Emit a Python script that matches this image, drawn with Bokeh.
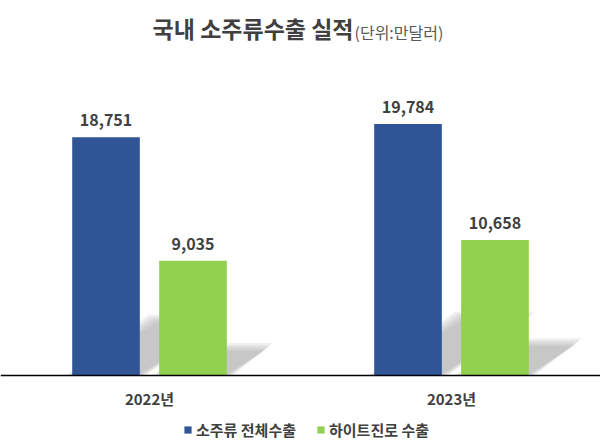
from bokeh.plotting import figure
from bokeh.models import (Range1d, FixedTicker, Legend, LegendItem, Label,
                          ColumnDataSource, LabelSet)
from bokeh.embed import file_html
from bokeh.resources import INLINE
from bokeh.core.properties import value

# ---- data ----
years = ["2022년", "2023년"]
total_export = [18751, 19784]
hite_export = [9035, 10658]
series_names = ["소주류 전체수출", "하이트진로 수출"]
title_main = "국내 소주류수출 실적"
title_unit = "(단위:만달러)"

# ---- style ----
BLUE = "#2F5597"
GREEN = "#92D050"
TEXT = "#404040"
FONT = "Noto Sans CJK KR"

W, H = 600, 446
BASE_PX = 375           # baseline position from top
PX_PER_X = 302.0
UNITS_PER_PX = 78.7
px_per_y = 1.0 / UNITS_PER_PX

idx = list(range(len(years)))
off = 0.144
bw = 0.224
x_blue = [i - off for i in idx]
x_green = [i + off for i in idx]
half_x = (W / 2) / PX_PER_X

p = figure(width=W, height=H, x_range=Range1d(0.5 - half_x, 0.5 + half_x),
           y_range=Range1d(-(H - BASE_PX) * UNITS_PER_PX, BASE_PX * UNITS_PER_PX),
           output_backend="svg", toolbar_location=None,
           y_axis_location=None, min_border_left=0, min_border_right=0,
           min_border_top=0, min_border_bottom=0)
p.outline_line_color = None
p.xgrid.grid_line_color = None
p.ygrid.grid_line_color = None
p.background_fill_color = "white"
p.border_fill_color = "white"


# ---- perspective shadows (derived from bar values) ----
def shadow(xc, v, e):
    h = 0.23 * v
    a = 1.5 * h * px_per_y / PX_PER_X
    ex = e / PX_PER_X
    ey = e / px_per_y
    x0, x1 = xc - bw / 2, xc + bw / 2
    return ([x0 - ex, x1 + ex, x1 + a + ex, x0 + a - ex],
            [0, 0, h + ey, h + ey])


for e in [6, 4, 2, 0, -2]:
    xs, ys = [], []
    for xc, v in list(zip(x_blue, total_export)) + list(zip(x_green, hite_export)):
        sx, sy = shadow(xc, v, e)
        xs.append(sx)
        ys.append(sy)
    p.patches(xs, ys, fill_color="#a0a0a0", fill_alpha=0.16, line_color=None)

# ---- bars ----
r1 = p.vbar(x=x_blue, top=total_export, width=bw, fill_color=BLUE, line_color=None)
r2 = p.vbar(x=x_green, top=hite_export, width=bw, fill_color=GREEN, line_color=None)

# ---- value labels ----
lab_src = ColumnDataSource(dict(
    x=x_blue + x_green,
    y=total_export + hite_export,
    t=[f"{v:,}" for v in total_export + hite_export],
))
p.add_layout(LabelSet(x="x", y="y", text="t", source=lab_src, y_offset=11,
                      text_align="center", text_baseline="bottom",
                      text_font=value(FONT), text_font_size=value("16px"),
                      text_font_style="bold", text_color=TEXT))

# ---- axis (pinned at y=0) ----
ax = p.xaxis[0]
ax.fixed_location = 0
ax.ticker = FixedTicker(ticks=idx)
ax.major_label_overrides = {i: y for i, y in zip(idx, years)}
ax.major_label_text_font = FONT
ax.major_label_text_font_size = "15px"
ax.major_label_text_font_style = "bold"
ax.major_label_text_color = TEXT
ax.major_tick_line_color = None
ax.minor_tick_line_color = None
ax.major_tick_out = 0
ax.major_tick_in = 0
ax.axis_line_color = "black"
ax.axis_line_width = 1.5
ax.major_label_standoff = 12

# ---- title ----
p.add_layout(Label(x=353, y=H - 27, x_units="screen", y_units="screen",
                   text=title_main, text_align="right", text_baseline="middle",
                   text_font=FONT, text_font_size="23px", text_font_style="bold",
                   text_color=TEXT))
p.add_layout(Label(x=354, y=H - 31, x_units="screen", y_units="screen",
                   text=title_unit, text_align="left", text_baseline="middle",
                   text_font=FONT, text_font_size="16px", text_font_style="normal",
                   text_color="#595959"))

# ---- legend ----
legend = Legend(items=[LegendItem(label=series_names[0], renderers=[r1]),
                       LegendItem(label=series_names[1], renderers=[r2])],
                location=(183, 6), orientation="horizontal",
                glyph_width=9, glyph_height=9, label_standoff=4, spacing=20,
                padding=0, margin=0, border_line_color=None,
                background_fill_alpha=0,
                label_text_font=FONT, label_text_font_size="15px",
                label_text_font_style="bold", label_text_color=TEXT)
p.add_layout(legend, "center")

open("out.html", "w").write(file_html(p, INLINE))
